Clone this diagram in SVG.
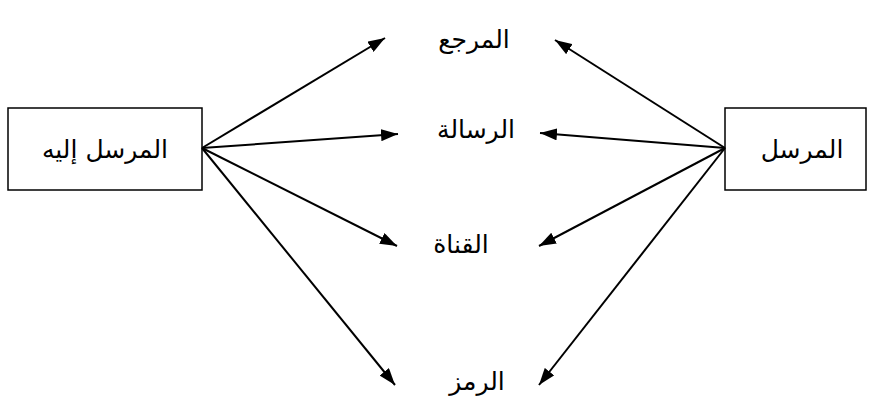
<svg xmlns="http://www.w3.org/2000/svg" width="872" height="403" viewBox="0 0 872 403">
<style>
.box{fill:#fff;stroke:#000;stroke-width:1.5}
.lbl{font-family:"DejaVu Sans","Noto Sans",sans-serif;font-size:25px;fill:#000;text-anchor:middle}
.con line{stroke:#000;stroke-width:2}
</style>
<defs>
<marker id="ah" markerWidth="17" markerHeight="12" refX="17" refY="6" orient="auto" markerUnits="userSpaceOnUse">
<path d="M0,0 L17,6 L0,12 Z" fill="#000"/>
</marker>
</defs>
<rect width="872" height="403" fill="#fff"/>
<g id="receiver">
<rect class="box" x="8" y="108" width="194" height="82"/>
<text class="lbl" x="105" y="158" direction="rtl">المرسل إليه</text>
</g>
<g id="sender">
<rect class="box" x="725" y="108" width="141" height="82"/>
<text class="lbl" x="802" y="158" direction="rtl">المرسل</text>
</g>
<g id="referent"><text class="lbl" x="474" y="48" direction="rtl">المرجع</text></g>
<g id="message"><text class="lbl" x="476" y="138" direction="rtl">الرسالة</text></g>
<g id="channel"><text class="lbl" x="461" y="253" direction="rtl">القناة</text></g>
<g id="code"><text class="lbl" x="477" y="390" direction="rtl">الرمز</text></g>
<g class="con" id="connectors">
<line x1="202" y1="148" x2="385" y2="38" marker-end="url(#ah)"/>
<line x1="202" y1="148" x2="398" y2="134" marker-end="url(#ah)"/>
<line x1="202" y1="148" x2="397" y2="246" marker-end="url(#ah)"/>
<line x1="202" y1="148" x2="395" y2="385" marker-end="url(#ah)"/>
<line x1="725" y1="148" x2="555" y2="40" marker-end="url(#ah)"/>
<line x1="725" y1="148" x2="540" y2="133" marker-end="url(#ah)"/>
<line x1="725" y1="148" x2="539" y2="246" marker-end="url(#ah)"/>
<line x1="725" y1="148" x2="539" y2="385" marker-end="url(#ah)"/>
</g>
</svg>
